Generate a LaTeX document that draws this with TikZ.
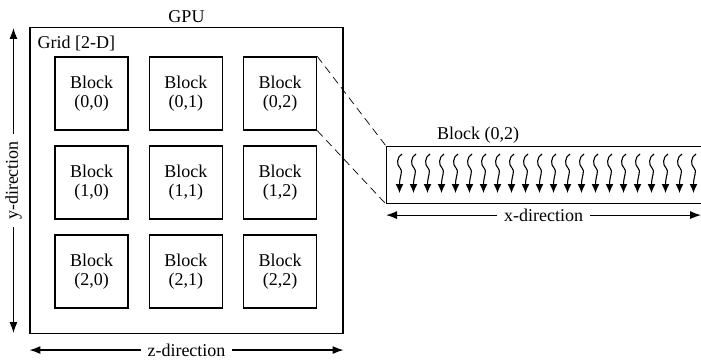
\documentclass[tikz,border=0pt]{standalone}
\usepackage{fontspec}
\setmainfont{Liberation Serif}
\usetikzlibrary{arrows.meta, positioning}

\begin{document}
\begin{tikzpicture}[
        x=1pt, y=-1pt,
        font=\fontsize{18}{19.5}\selectfont,
        node distance=14.75pt and 20pt,
        blk/.style={rectangle, draw, line width=1.3pt, minimum size=73pt, inner sep=0pt, align=center},
        dirarrow/.style={{Latex[length=11pt,width=8pt]}-{Latex[length=11pt,width=8pt]}, line width=1.2pt},
        dirlabel/.style={fill=white, inner xsep=7pt, inner ysep=1pt},
        zoomline/.style={dash pattern=on 8pt off 5pt, line width=0.7pt},
        thread/.style={-{Latex[length=9pt,width=8pt]}, line width=1.1pt}
    ]
    \useasboundingbox (0,0) rectangle (701,359);

    % GPU and grid
    \node[draw, line width=1.1pt, minimum width=313pt, minimum height=306pt] (gpu) at (186.5,180.5) {};
    \node[above=1pt of gpu] (gpulbl) {GPU};
    \node[below right=9pt and 8pt of gpu.north west, inner sep=0pt] (gridlbl) {Grid [2-D]};

    % Blocks
    \node[blk] (b00) at (91.5,93.5) {Block\\(0,0)};
    \node[blk, right=of b00] (b01) {Block\\(0,1)};
    \node[blk, right=of b01] (b02) {Block\\(0,2)};
    \node[blk, below=of b00] (b10) {Block\\(1,0)};
    \node[blk, right=of b10] (b11) {Block\\(1,1)};
    \node[blk, right=of b11] (b12) {Block\\(1,2)};
    \node[blk, below=of b10] (b20) {Block\\(2,0)};
    \node[blk, right=of b20] (b21) {Block\\(2,1)};
    \node[blk, right=of b21] (b22) {Block\\(2,2)};

    % Directions
    \coordinate (ytop) at ([xshift=-16pt, yshift=-1pt]gpu.north west);
    \coordinate (ybot) at ([xshift=-16pt, yshift=1pt]gpu.south west);
    \draw[dirarrow] (ytop) -- (ybot) node[midway, rotate=90, dirlabel] (ylbl) {y-direction};
    \coordinate (zleft) at ([yshift=-16pt]gpu.south west);
    \coordinate (zright) at ([yshift=-16pt]gpu.south east);
    \draw[dirarrow] (zleft) -- (zright) node[midway, dirlabel] (zlbl) {z-direction};

    % Zoomed block
    \node[draw, line width=1.1pt, minimum width=316pt, minimum height=57pt, anchor=north west] (bigblk) at (386,146) {};
    \node[above right=2pt and 51pt of bigblk.north west, inner sep=0pt] (biglbl) {Block (0,2)};
    \draw[zoomline] (b02.north east) -- (bigblk.north west);
    \draw[zoomline] (b02.south east) -- (bigblk.south west);

    % Threads
    \foreach \i in {0,...,21} {
        \pgfmathsetmacro\tx{400+14*\i}
        \draw[thread] (\tx+2,154) .. controls (\tx-3.5,157) and (\tx-3.5,165) .. (\tx,168)
            .. controls (\tx+3.5,171) and (\tx-0.5,176) .. (\tx-0.5,193);
    }

    \coordinate (xleft) at ([yshift=-11pt]bigblk.south west);
    \coordinate (xright) at ([xshift=-2pt, yshift=-11pt]bigblk.south east);
    \draw[dirarrow] (xleft) -- (xright) node[midway, dirlabel] (xlbl) {x-direction};

\end{tikzpicture}
\end{document}
